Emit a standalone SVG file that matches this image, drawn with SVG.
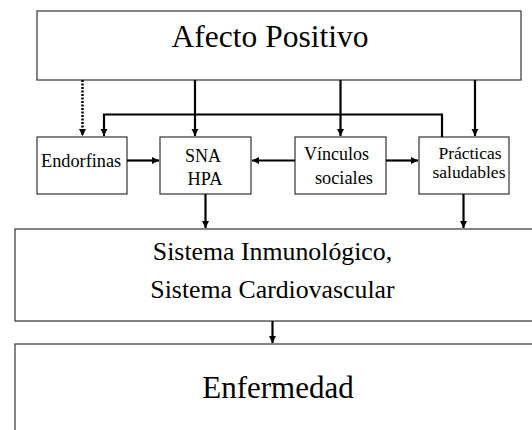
<svg xmlns="http://www.w3.org/2000/svg" width="532" height="430" viewBox="0 0 532 430">
<style>
.box{fill:#fff;stroke:#333;stroke-width:1.2}
.t{font-family:"Liberation Serif","Times New Roman",serif;fill:#000}
.c{fill:none;stroke:#000;stroke-width:2.2}
.d{fill:none;stroke:#000;stroke-width:2.5;stroke-dasharray:2,1.5}
</style>
<defs>
<marker id="ah" markerUnits="userSpaceOnUse" markerWidth="8" markerHeight="8" refX="7" refY="4" orient="auto">
<path d="M0,0.5 L7,4 L0,7.5 z" fill="#000"/>
</marker>
</defs>
<rect width="532" height="430" fill="#fff"/>
<g id="afecto">
<rect class="box" x="37" y="11" width="484" height="69"/>
<text class="t" x="270" y="47" font-size="31.5" text-anchor="middle">Afecto Positivo</text>
</g>
<g id="endorfinas">
<rect class="box" x="37" y="137" width="90" height="57"/>
<text class="t" x="41" y="166.5" font-size="18.3">Endorfinas</text>
</g>
<g id="sna">
<rect class="box" x="160" y="137" width="91" height="57"/>
<text class="t" x="203" y="162" font-size="18" text-anchor="middle">SNA</text>
<text class="t" x="205" y="184.5" font-size="18.3" text-anchor="middle">HPA</text>
</g>
<g id="vinculos">
<rect class="box" x="295" y="137" width="91" height="57"/>
<text class="t" x="304" y="160" font-size="18">Vínculos</text>
<text class="t" x="315" y="183.5" font-size="18.3">sociales</text>
</g>
<g id="practicas">
<rect class="box" x="419" y="137" width="90" height="57"/>
<text class="t" x="470" y="158.5" font-size="17.5" text-anchor="middle">Prácticas</text>
<text class="t" x="469" y="178" font-size="17.5" text-anchor="middle">saludables</text>
</g>
<g id="sistema">
<rect class="box" x="15" y="229" width="530" height="92"/>
<text class="t" x="272.5" y="260" font-size="25.8" text-anchor="middle">Sistema Inmunológico,</text>
<text class="t" x="272.5" y="298" font-size="25.8" text-anchor="middle">Sistema Cardiovascular</text>
</g>
<g id="enfermedad">
<rect class="box" x="15" y="344" width="530" height="110"/>
<text class="t" x="278" y="398" font-size="31" text-anchor="middle">Enfermedad</text>
</g>
<g id="connectors">
<path class="d" d="M82.5,80 V136" marker-end="url(#ah)"/>
<path class="c" d="M442,137 V114.5 H104 V136" marker-end="url(#ah)"/>
<path class="c" d="M195,80 V136" marker-end="url(#ah)"/>
<path class="c" d="M340.5,80 V136" marker-end="url(#ah)"/>
<path class="c" d="M475,80 V136" marker-end="url(#ah)"/>
<path class="c" d="M127,160.5 H159" marker-end="url(#ah)"/>
<path class="c" d="M295,160.5 H252" marker-end="url(#ah)"/>
<path class="c" d="M386,160.5 H418" marker-end="url(#ah)"/>
<path class="c" d="M205.5,194 V228" marker-end="url(#ah)"/>
<path class="c" d="M463.5,194 V228" marker-end="url(#ah)"/>
<path class="c" d="M272.5,321 V343" marker-end="url(#ah)"/>
</g>
</svg>
